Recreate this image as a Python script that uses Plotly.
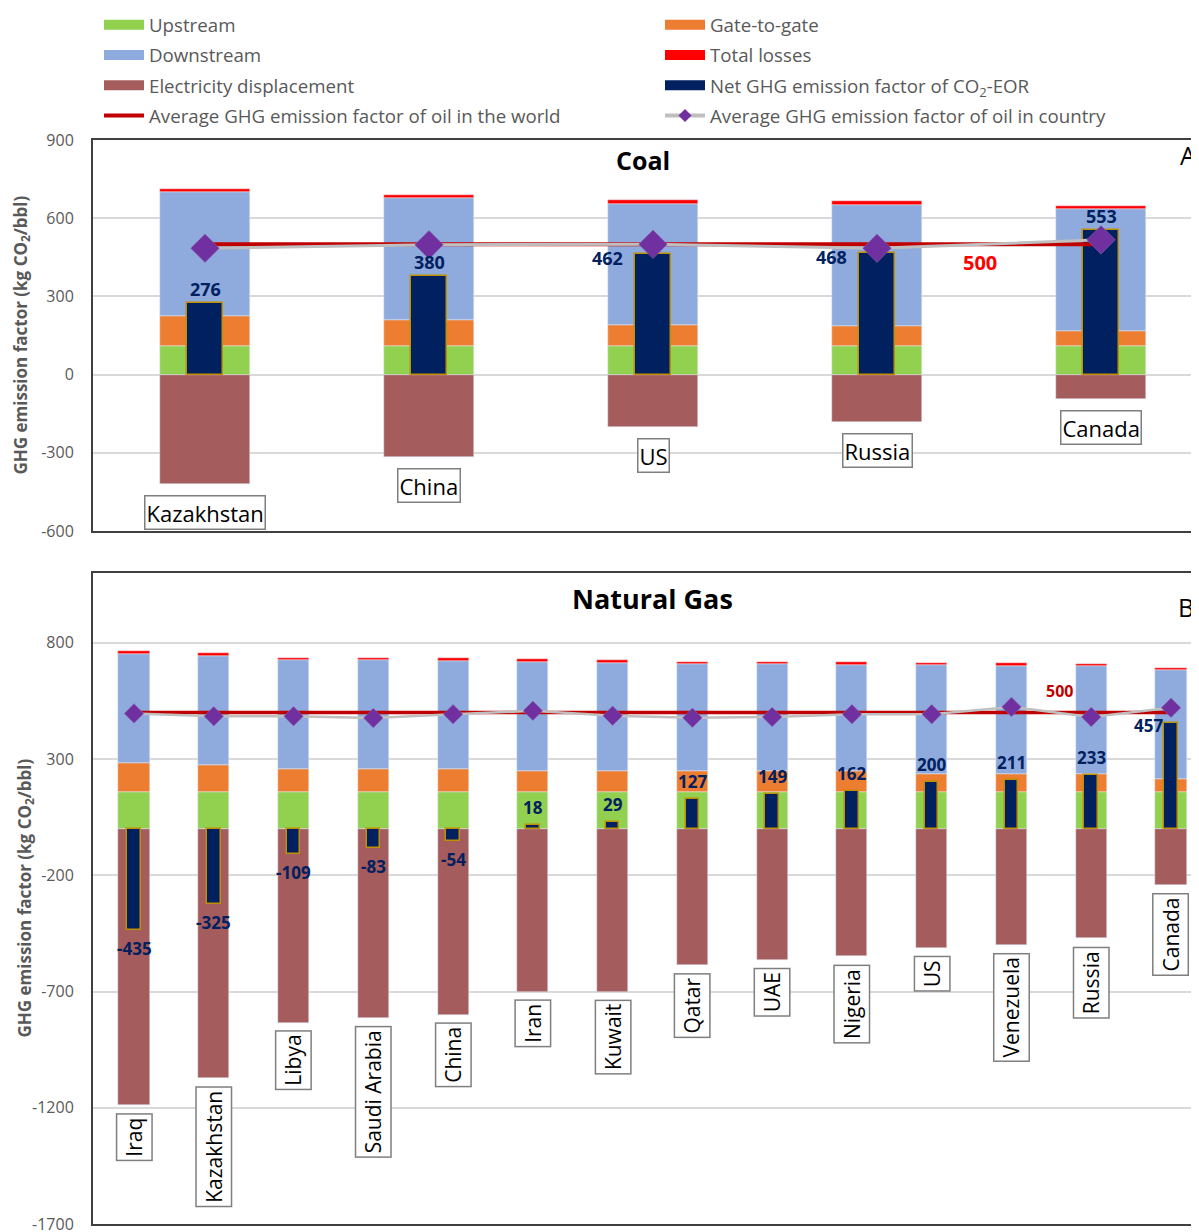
import plotly.graph_objects as go

# ---------------- Data ----------------
coal_countries = ["Kazakhstan", "China", "US", "Russia", "Canada"]
coal_upstream = [110, 109, 109, 109, 109]
coal_gate = [116, 99, 80, 76, 60]
coal_downstream = [474, 470, 465, 465, 467]
coal_losses = [11, 11, 14, 15, 11]
coal_elec = [-421, -317, -200, -183, -93]
coal_net = [276, 380, 462, 468, 553]
coal_country_avg = [485, 498, 500, 485, 517]
coal_world_avg = [500, 500, 500, 500, 500]

gas_countries = ["Iraq", "Kazakhstan", "Libya", "Saudi Arabia", "China", "Iran", "Kuwait",
                 "Qatar", "UAE", "Nigeria", "US", "Venezuela", "Russia", "Canada"]
gas_upstream = [157, 157, 157, 157, 157, 157, 157, 157, 157, 157, 157, 157, 157, 157]
gas_gate = [126, 117, 102, 100, 100, 93, 93, 90, 90, 90, 80, 77, 77, 59]
gas_downstream = [470, 470, 465, 467, 464, 466, 464, 460, 460, 457, 466, 466, 465, 465]
gas_losses = [10, 13, 12, 12, 13, 13, 13, 10, 9, 12, 11, 13, 10, 12]
gas_elec = [-1189, -1072, -834, -812, -800, -700, -700, -587, -565, -548, -513, -500, -472, -244]
gas_net = [-435, -325, -109, -83, -54, 18, 29, 127, 149, 162, 200, 211, 233, 457]
gas_country_avg = [496, 484, 484, 476, 493, 507, 486, 477, 481, 493, 493, 524, 481, 520]
gas_world_avg = [500, 500, 500, 500, 500, 500, 500, 500, 500, 500, 500, 500, 500, 500]

coal_ticks = [-600, -300, 0, 300, 600, 900]
gas_ticks = [-1700, -1200, -700, -200, 300, 800]
world_label = "500"

# ---------------- Styles ----------------
FONT = "Open Sans"
C_UP = "#92D050"
C_GATE = "#ED7D31"
C_DOWN = "#8FAADC"
C_LOSS = "#FF0000"
C_ELEC = "#A45C5C"
C_NET = "#002060"
C_NET_EDGE = "#BF9000"
C_WORLD = "#C00000"
C_CTRY = "#BFBFBF"
C_DIAM = "#7030A0"
GREY_TXT = "#595959"

# page body has an 8px margin: figure is sized so it fills the window exactly
OFF = 8
W, H = 1199 - OFF, 1232 - OFF
ML = 93 - OFF
A_TOP, A_BOT = 140, 531          # in window pixels
B_TOP, B_BOT = 573, 1224


def px_y(py):
    return 1 - (py - OFF) / H


def px_x(px):
    return (px - OFF - ML) / (W - ML)


fig = go.Figure()


def add_panel(cats, up, gate, down, loss, elec, net, cavg, wavg, xa, ya, wide, narrow, dsize, lw):
    b_gate = up
    b_down = [u + g for u, g in zip(up, gate)]
    b_loss = [u + g + d for u, g, d in zip(up, gate, down)]
    common = dict(xaxis=xa, yaxis=ya, width=wide, showlegend=False)
    fig.add_bar(x=cats, y=up, base=[0] * len(cats), name="Upstream", marker_color=C_UP, **common)
    fig.add_bar(x=cats, y=gate, base=b_gate, name="Gate-to-gate", marker_color=C_GATE, **common)
    fig.add_bar(x=cats, y=down, base=b_down, name="Downstream", marker_color=C_DOWN, **common)
    fig.add_bar(x=cats, y=loss, base=b_loss, name="Total losses", marker_color=C_LOSS, **common)
    fig.add_bar(x=cats, y=elec, base=[0] * len(cats), name="Electricity displacement",
                marker_color=C_ELEC, **common)
    fig.add_bar(x=cats, y=net, base=[0] * len(cats), name="Net GHG emission factor of CO2-EOR",
                marker=dict(color=C_NET, line=dict(color=C_NET_EDGE, width=1.5)),
                xaxis=xa, yaxis=ya, width=narrow, showlegend=False)
    fig.add_scatter(x=cats, y=wavg, mode="lines", name="Average GHG emission factor of oil in the world",
                    line=dict(color=C_WORLD, width=lw + 1), xaxis=xa, yaxis=ya, showlegend=False)
    fig.add_scatter(x=cats, y=cavg, mode="lines+markers",
                    name="Average GHG emission factor of oil in country",
                    line=dict(color=C_CTRY, width=lw),
                    marker=dict(symbol="diamond", size=dsize, color=C_DIAM,
                                line=dict(color="#8E6BB0", width=0.5)),
                    xaxis=xa, yaxis=ya, showlegend=False)


add_panel(coal_countries, coal_upstream, coal_gate, coal_downstream, coal_losses, coal_elec,
          coal_net, coal_country_avg, coal_world_avg, "x", "y", 0.40, 0.165, 22, 3)
add_panel(gas_countries, gas_upstream, gas_gate, gas_downstream, gas_losses, gas_elec,
          gas_net, gas_country_avg, gas_world_avg, "x2", "y2", 0.39, 0.17, 15, 2.5)

# Legend entries (wide swatches as in the original)
legend_items = [
    ("Upstream", C_UP, "legend", "swatch"),
    ("Downstream", C_DOWN, "legend", "swatch"),
    ("Electricity displacement", C_ELEC, "legend", "swatch"),
    ("Average GHG emission factor of oil in the world", C_WORLD, "legend", "line"),
    ("Gate-to-gate", C_GATE, "legend2", "swatch"),
    ("Total losses", C_LOSS, "legend2", "swatch"),
    ("Net GHG emission factor of CO<sub>2</sub>-EOR", C_NET, "legend2", "swatch"),
    ("Average GHG emission factor of oil in country", C_CTRY, "legend2", "ctry"),
]
for i, (nm, col, lg, kind) in enumerate(legend_items):
    if kind == "swatch":
        fig.add_scatter(x=[None], y=[None], mode="lines", name=nm, line=dict(color=col, width=12),
                        legend=lg, legendgroup=f"g{i}", xaxis="x", yaxis="y")
    elif kind == "line":
        fig.add_scatter(x=[None], y=[None], mode="lines", name=nm, line=dict(color=col, width=4),
                        legend=lg, legendgroup=f"g{i}", xaxis="x", yaxis="y")
    else:
        fig.add_scatter(x=[None], y=[None], mode="lines+markers", name=nm,
                        line=dict(color=col, width=4),
                        marker=dict(symbol="diamond", size=10, color=C_DIAM),
                        legend=lg, legendgroup=f"g{i}", xaxis="x", yaxis="y")

ann = []

# Net value labels - coal
coal_place = ["above", "above", "left", "left", "above"]
for c, v, p in zip(coal_countries, coal_net, coal_place):
    a = dict(x=c, y=v, xref="x", yref="y", text=f"<b>{v}</b>", showarrow=False,
             font=dict(family=FONT, size=18, color=C_NET))
    if p == "above":
        a.update(yanchor="bottom", yshift=0)
    else:
        a.update(xanchor="right", xshift=-28, yanchor="middle", yshift=-4)
    ann.append(a)

# Net value labels - gas
for c, v in zip(gas_countries, gas_net):
    a = dict(x=c, y=v, xref="x2", yref="y2", text=f"<b>{v}</b>", showarrow=False,
             font=dict(family=FONT, size=17, color=C_NET))
    if c == "Canada":
        a.update(xanchor="right", xshift=-6, yanchor="middle", yshift=-3)
    elif v < 0:
        a.update(yanchor="top", yshift=-5)
    else:
        a.update(yanchor="bottom", yshift=4)
    ann.append(a)

# Country boxes
for c, e in zip(coal_countries, coal_elec):
    ann.append(dict(x=c, y=e, xref="x", yref="y", text=c, showarrow=False, yanchor="top",
                    yshift=-11, font=dict(family=FONT, size=22, color="#000000"),
                    bordercolor="#7F7F7F", borderwidth=1.5, borderpad=1, bgcolor="white"))
for c, e in zip(gas_countries, gas_elec):
    ann.append(dict(x=c, y=e, xref="x2", yref="y2", text=c, showarrow=False, yanchor="top",
                    yshift=-8, textangle=-90, font=dict(family=FONT, size=21, color="#000000"),
                    bordercolor="#7F7F7F", borderwidth=1.5, borderpad=3, bgcolor="white"))

# World average labels
ann.append(dict(x=3.46, y=430, xref="x", yref="y", text=f"<b>{world_label}</b>", showarrow=False,
                font=dict(family=FONT, size=20, color="#FF0000")))
ann.append(dict(x=11.6, y=594, xref="x2", yref="y2", text=f"<b>{world_label}</b>", showarrow=False,
                font=dict(family=FONT, size=16, color=C_WORLD)))

# Titles
ann.append(dict(x=px_x(643), y=px_y(160), xref="paper", yref="paper", text="<b>Coal</b>",
                xanchor="center", yanchor="middle",
                showarrow=False, font=dict(family=FONT, size=25, color="#000000")))
ann.append(dict(x=px_x(652), y=px_y(598), xref="paper", yref="paper", text="<b>Natural Gas</b>",
                xanchor="center", yanchor="middle",
                showarrow=False, font=dict(family=FONT, size=27, color="#000000")))
ann.append(dict(x=px_x(1198), y=px_y(155), xref="paper", yref="paper", text="A",
                xanchor="right", yanchor="middle",
                showarrow=False, font=dict(family=FONT, size=25, color="#000000")))
ann.append(dict(x=px_x(1196), y=px_y(607), xref="paper", yref="paper", text="B",
                xanchor="right", yanchor="middle",
                showarrow=False, font=dict(family=FONT, size=25, color="#000000")))

# Y axis titles
ytitle = "<b>GHG emission factor (kg CO<sub>2</sub>/bbl)</b>"
ann.append(dict(x=px_x(21), y=px_y((A_TOP + A_BOT) / 2), xref="paper", yref="paper", text=ytitle,
                xanchor="center", yanchor="middle",
                textangle=-90, showarrow=False, font=dict(family=FONT, size=17, color=GREY_TXT)))
ann.append(dict(x=px_x(25), y=px_y((B_TOP + B_BOT) / 2), xref="paper", yref="paper", text=ytitle,
                xanchor="center", yanchor="middle",
                textangle=-90, showarrow=False, font=dict(family=FONT, size=17, color=GREY_TXT)))

xcommon = dict(showticklabels=False, showgrid=False, zeroline=False, showline=True, mirror=True,
               linecolor="#404040", linewidth=2, ticks="", fixedrange=True, automargin=False)
ycommon = dict(showgrid=True, gridcolor="#D9D9D9", gridwidth=1.5, zeroline=False, showline=True,
               mirror=False, linecolor="#404040", linewidth=2, ticks="outside", ticklen=14,
               tickcolor="rgba(0,0,0,0)", tickfont=dict(family=FONT, size=16, color=GREY_TXT),
               automargin=False, ticklabeloverflow="allow")

legend_common = dict(yanchor="top", xanchor="left", orientation="v", traceorder="grouped",
                     tracegroupgap=3, itemwidth=40,
                     font=dict(family=FONT, size=18.7, color=GREY_TXT), bgcolor="rgba(0,0,0,0)")

fig.update_layout(
    width=W, height=H,
    margin=dict(l=ML, r=0, t=0, b=0, autoexpand=False),
    paper_bgcolor="white", plot_bgcolor="white",
    barmode="overlay", bargap=0,
    font=dict(family=FONT),
    xaxis=dict(domain=[0, 1], anchor="y", range=[-0.5, -0.5 + (W - ML) / 224], **xcommon),
    yaxis=dict(domain=[px_y(A_BOT), px_y(A_TOP)], anchor="x", range=[-600, 900],
               tickvals=coal_ticks, ticktext=[str(t) for t in coal_ticks], **ycommon),
    xaxis2=dict(domain=[0, 1], anchor="y2", range=[-0.514, -0.514 + (W - ML) / 79.77], **xcommon),
    yaxis2=dict(domain=[px_y(B_BOT), px_y(B_TOP)], anchor="x2", range=[-1700, 1100],
                tickvals=gas_ticks, ticktext=[str(t) for t in gas_ticks], **ycommon),
    legend=dict(x=px_x(99), y=px_y(6), **legend_common),
    legend2=dict(x=px_x(660), y=px_y(6), **legend_common),
    annotations=ann,
)

fig.write_html("out.html")
